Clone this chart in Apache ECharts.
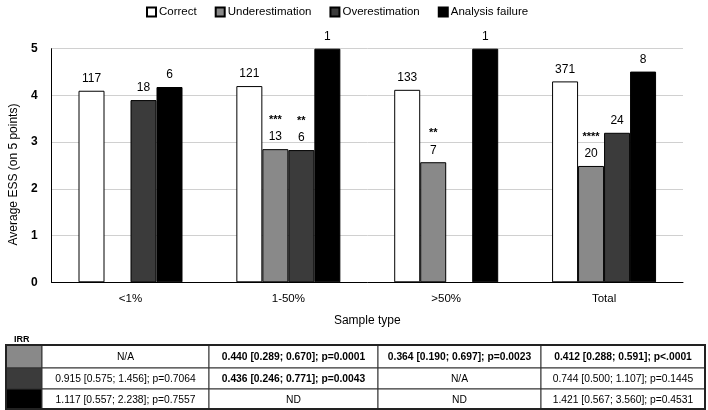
<!DOCTYPE html>
<html>
<head>
<meta charset="utf-8">
<script src="https://cdn.jsdelivr.net/npm/echarts@6/dist/echarts.min.js"></script>
<style>html,body{margin:0;padding:0;background:#fff;}#c{width:708px;height:410px;}</style>
</head>
<body>
<div id="c"></div>
<script>
// ---- data ----
var categories = ["<1%", "1-50%", ">50%", "Total"];
var seriesNames = ["Correct", "Underestimation", "Overestimation", "Analysis failure"];
var correctVals = [4.10, 4.20, 4.12, 4.30];
var underVals   = [null, 2.85, 2.57, 2.49];
var overVals    = [3.90, 2.83, null, 3.20];
var failVals    = [4.18, 5.00, 5.00, 4.51];
var correctN = [117, 121, 133, 371];
var underN   = [null, 13, 7, 20];
var overN    = [18, 6, null, 24];
var failN    = [6, 1, 1, 8];
var underStars = ["", "***", "**", "****"];
var overStars  = ["", "**", "", ""];
var yTicks = [0, 1, 2, 3, 4, 5];
var irrTitle = "IRR";
var irrRowUnder = ["N/A", "0.440 [0.289; 0.670]; p=0.0001", "0.364 [0.190; 0.697]; p=0.0023", "0.412 [0.288; 0.591]; p<.0001"];
var irrRowOver  = ["0.915 [0.575; 1.456]; p=0.7064", "0.436 [0.246; 0.771]; p=0.0043", "N/A", "0.744 [0.500; 1.107]; p=0.1445"];
var irrRowFail  = ["1.117 [0.557; 2.238]; p=0.7557", "ND", "ND", "1.421 [0.567; 3.560]; p=0.4531"];
var irrBoldUnder = [false, true, true, true];
var irrBoldOver  = [false, true, false, false];
var irrBoldFail  = [false, false, false, false];

// ---- styles / layout ----
var FF = "'Liberation Sans', Arial, sans-serif";
var colors = ["#ffffff", "#898989", "#3b3b3b", "#000000"];
var colX = [6, 42, 209, 378, 541, 705];
var rowY = [345, 368, 389, 409];

function makeLabel(counts, stars) {
  return {
    show: true, position: "top", distance: 4,
    fontFamily: FF, fontSize: 12, color: "#000",
    formatter: function (p) {
      var n = counts[p.dataIndex];
      if (n == null) return "";
      var s = stars ? stars[p.dataIndex] : "";
      return s ? "{s|" + s + "}\n{n|" + n + "}" : "{n|" + n + "}";
    },
    rich: {
      s: { fontFamily: FF, fontSize: 11, lineHeight: 18, color: "#000", fontWeight: "bold" },
      n: { fontFamily: FF, fontSize: 12, lineHeight: 16, color: "#000" }
    }
  };
}

var valueLists = [correctVals, underVals, overVals, failVals];
var countLists = [correctN, underN, overN, failN];
var starLists = [null, underStars, overStars, null];
var series = seriesNames.map(function (name, i) {
  return {
    name: name, type: "bar", data: valueLists[i],
    barWidth: 26, barGap: "0%",
    itemStyle: { color: colors[i], borderColor: "#000", borderWidth: 1 },
    label: makeLabel(countLists[i], starLists[i]),
    emphasis: { disabled: true }
  };
});

// table graphics
var rows = [irrRowUnder, irrRowOver, irrRowFail];
var bolds = [irrBoldUnder, irrBoldOver, irrBoldFail];
var graphics = [];
graphics.push({
  type: "text", left: 14, top: 335,
  style: { text: irrTitle, fontFamily: FF, fontSize: 9, fontWeight: "bold", fill: "#000" }
});
rows.forEach(function (row, r) {
  var y0 = rowY[r], y1 = rowY[r + 1];
  graphics.push({
    type: "rect", shape: { x: colX[0], y: y0, width: colX[1] - colX[0], height: y1 - y0 },
    style: { fill: colors[r + 1], stroke: "#333", lineWidth: 1 }
  });
  row.forEach(function (txt, c) {
    var x0 = colX[c + 1], x1 = colX[c + 2];
    graphics.push({
      type: "rect", shape: { x: x0, y: y0, width: x1 - x0, height: y1 - y0 },
      style: { fill: "#fff", stroke: "#333", lineWidth: 1 }
    });
    graphics.push({
      type: "text",
      style: {
        text: txt, x: (x0 + x1) / 2, y: (y0 + y1) / 2 + 1,
        align: "center", verticalAlign: "middle",
        fontFamily: FF, fontSize: 10.3, fontWeight: bolds[r][c] ? "bold" : "normal", fill: "#000"
      }
    });
  });
});
graphics.push({
  type: "rect", shape: { x: colX[0], y: rowY[0], width: colX[5] - colX[0], height: rowY[3] - rowY[0] },
  style: { fill: "none", stroke: "#222", lineWidth: 2 }
});

var chart = echarts.init(document.getElementById("c"), null, { renderer: "canvas" });
chart.setOption({
  animation: false,
  backgroundColor: "#fff",
  textStyle: { fontFamily: FF },
  legend: {
    data: seriesNames, left: 141, top: 1,
    icon: "rect", itemWidth: 9, itemHeight: 9, itemGap: 18,
    textStyle: { fontFamily: FF, fontSize: 11.5, color: "#000", padding: [0, 0, 0, -2] },
    selectedMode: false
  },
  grid: { left: 50, right: 25, top: 48.7, bottom: 127.7, containLabel: false },
  xAxis: {
    type: "category", data: categories,
    name: "Sample type", nameLocation: "middle", nameGap: 32,
    nameTextStyle: { fontFamily: FF, fontSize: 12, color: "#000" },
    axisLine: { lineStyle: { color: "#000", width: 1 } },
    axisTick: { show: false },
    axisLabel: { fontFamily: FF, fontSize: 11.5, color: "#000", margin: 11 }
  },
  yAxis: {
    type: "value", min: yTicks[0], max: yTicks[yTicks.length - 1], interval: 1,
    name: "Average ESS (on 5 points)", nameLocation: "middle", nameGap: 31, nameRotate: 90,
    nameTextStyle: { fontFamily: FF, fontSize: 12, color: "#000", padding: [0, 18, 0, 0] },
    axisLine: { show: true, lineStyle: { color: "#000", width: 1 } },
    axisTick: { show: false },
    splitLine: { lineStyle: { color: "#d0d0d0", width: 1 } },
    axisLabel: { fontFamily: FF, fontSize: 12, color: "#000", margin: 14, fontWeight: "bold" }
  },
  series: series,
  graphic: graphics
});
</script>
</body>
</html>
